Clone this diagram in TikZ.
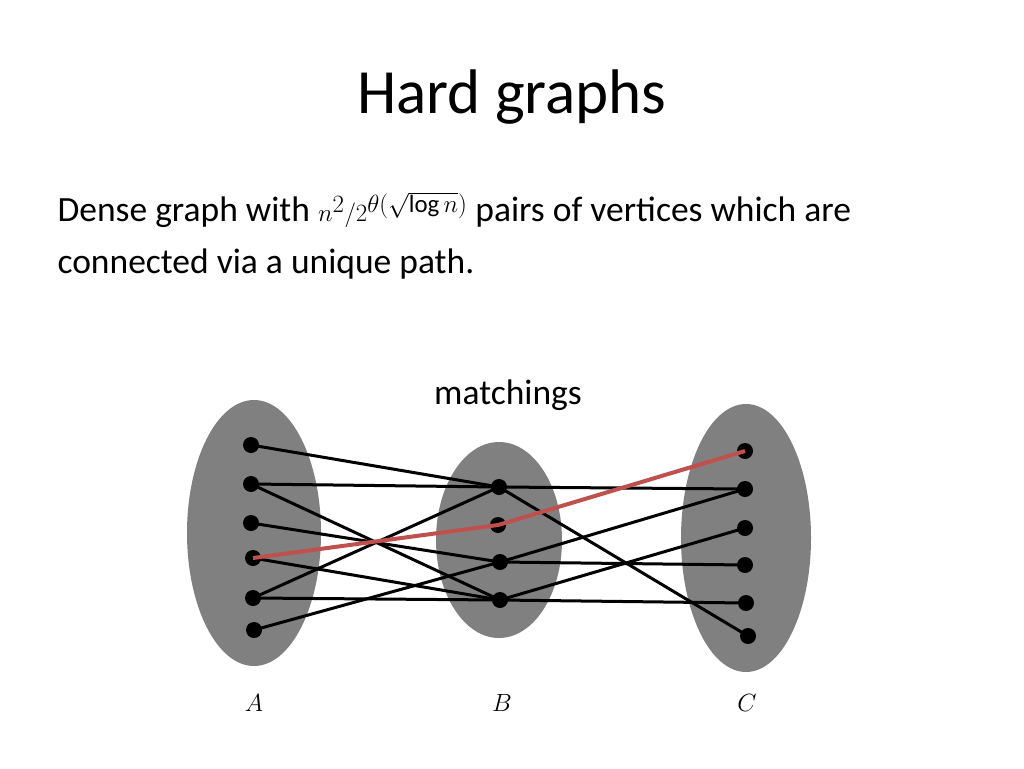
\documentclass[tikz,border=0pt]{standalone}
\usepackage{fontspec}
\setmainfont{Carlito}
\begin{document}
\begin{tikzpicture}[x=1pt,y=-1pt,
  blob/.style={fill=black!50,draw=none},
  vtx/.style={circle,fill=black,inner sep=0pt,minimum size=16pt},
  edge/.style={line width=3pt,black},
  path/.style={line width=4pt,color={rgb,255:red,192;green,80;blue,77}}]
\useasboundingbox (0,0) rectangle (1024,768);
\node[font=\fontsize{63}{70}\selectfont] (title) at (512,97) {Hard graphs};
\node[font=\fontsize{35.5}{52}\selectfont,anchor=west,align=left] (txt) at (54,236)
  {Dense graph with $n^2/2^{\theta(\sqrt{\log n})}$ pairs of vertices which are\\connected via a unique path.};
\node[font=\fontsize{35.5}{40}\selectfont] (m) at (508,395) {matchings};
\fill[blob] (254,533) ellipse (67 and 133);
\fill[blob] (499,540) ellipse (63 and 98);
\fill[blob] (746,538) ellipse (65 and 134);
\foreach \n/\x/\y in {a1/251/445,a2/251/484,a3/251/523,a4/253/558,a5/253/598,a6/254/630,
  b1/499/487,b2/498/525,b3/500/562,b4/500/600,
  c1/745/451,c2/745/489,c3/745/528,c4/745/565,c5/746/603,c6/748/636}
  \node[vtx] (\n) at (\x,\y) {};
\foreach \u/\v in {a1/b1,a2/b1,a2/b4,a3/b3,a4/b4,a5/b1,a5/b4,a6/b3,
  b1/c2,b1/c6,b3/c4,b3/c2,b4/c3,b4/c5}
  \draw[edge] (\u.center) -- (\v.center);
\draw[path] (a4.center) -- (b2.center) -- (c1.center);
\node[font=\fontsize{38}{44}\selectfont] (la) at (254,703) {$A$};
\node[font=\fontsize{38}{44}\selectfont] (lb) at (502,703) {$B$};
\node[font=\fontsize{38}{44}\selectfont] (lc) at (747,703) {$C$};
\end{tikzpicture}
\end{document}
